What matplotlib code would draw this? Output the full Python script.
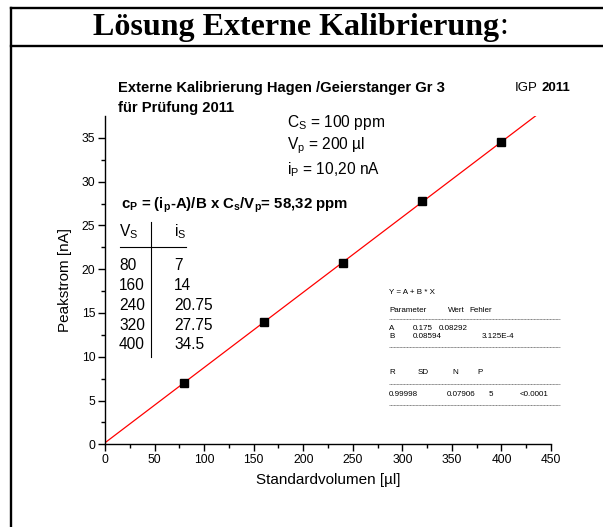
#!/usr/bin/env python
"""plot.py — external calibration chart (Lösung Externe Kalibrierung)."""
import numpy as np
import matplotlib
matplotlib.use("Agg")
import matplotlib.pyplot as plt
from matplotlib.lines import Line2D

# ── data ──────────────────────────────────────────────────────────────────────
volumes = [80, 160, 240, 320, 400]          # Standardvolumen [µl]
currents = [7, 14, 20.75, 27.75, 34.5]      # Peakstrom [nA]
fit_A = 0.175
fit_B = 0.08594
table_vs = ["80", "160", "240", "320", "400"]
table_is = ["7", "14", "20.75", "27.75", "34.5"]
x_ticks = [0, 50, 100, 150, 200, 250, 300, 350, 400, 450]
y_ticks = [0, 5, 10, 15, 20, 25, 30, 35]

plt.rcParams["font.family"] = ["Liberation Sans", "DejaVu Sans"]
plt.rcParams["mathtext.fontset"] = "custom"
plt.rcParams["mathtext.rm"] = "Liberation Sans"
plt.rcParams["mathtext.bf"] = "Liberation Sans:bold"
plt.rcParams["mathtext.it"] = "Liberation Sans:italic"

W, H = 603, 527
fig = plt.figure(figsize=(W / 100, H / 100), dpi=100)


def px(x, y):
    """pixel coords (top-left origin) -> figure fraction"""
    return x / W, 1 - y / H


def ftext(x, y, s, **kw):
    fx, fy = px(x, y)
    return fig.text(fx, fy, s, **kw)


# ── frame of the slide ────────────────────────────────────────────────────────
for xs, ys in [([11, W], [7.5, 7.5]), ([11, W], [45.5, 45.5]), ([11, 11], [7.5, H])]:
    fig.add_artist(Line2D([x / W for x in xs], [1 - y / H for y in ys],
                          transform=fig.transFigure, color="black", lw=1.7))

t = ftext(93, 27, "Lösung Externe Kalibrierung", family="Liberation Serif",
          fontweight="bold", fontsize=23, va="center", ha="left")
fig.canvas.draw()
bb = t.get_window_extent()
fig.text(bb.x1 / W, 1 - 27 / H, ":", family="Liberation Serif",
         fontsize=23, va="center", ha="left")

# ── axes ──────────────────────────────────────────────────────────────────────
ax = fig.add_axes([105 / W, 1 - 444.3 / H, (551 - 105) / W, (444.3 - 116) / H])
for s in ("top", "right"):
    ax.spines[s].set_visible(False)
for s in ("left", "bottom"):
    ax.spines[s].set_linewidth(1.0)

xfit = np.array([0, 450])
ax.plot(xfit, fit_A + fit_B * xfit, color="red", lw=0.9, zorder=2)
ax.plot(volumes, currents, ls="none", marker="s", ms=5.2, color="black", zorder=3)

ax.set_xlim(0, 450)
ax.set_ylim(0, 37.5)
ax.set_xticks(x_ticks)
ax.set_yticks(y_ticks)
ax.set_xticks(np.arange(25, 450, 50), minor=True)
ax.set_yticks(np.arange(2.5, 37.5, 5), minor=True)
ax.tick_params(which="major", direction="out", length=5, width=1, labelsize=8.7, pad=2)
ax.tick_params(which="minor", direction="out", length=3, width=1)
ax.set_xlabel("Standardvolumen [µl]", fontsize=11, labelpad=5)
ax.set_ylabel("Peakstrom [nA]", fontsize=11, labelpad=7)

# ── annotations ───────────────────────────────────────────────────────────────
ftext(118, 88, "Externe Kalibrierung Hagen /Geierstanger Gr 3", fontsize=10.6,
      fontweight="bold", va="center")
ftext(118, 108, "für Prüfung 2011", fontsize=10.6, fontweight="bold", va="center")
ftext(515, 88, "IGP", fontsize=9.5, va="center")
ftext(542, 88, "2011", fontsize=9.5, fontweight="bold", va="center")

ftext(287, 122, r"C$_\mathregular{S}$ = 100 ppm", fontsize=11.2, va="center")
ftext(287, 146, r"V$_\mathregular{p}$ = 200 µl", fontsize=11.2, va="center")
ftext(287, 170, r"i$_\mathregular{P}$ = 10,20 nA", fontsize=11.2, va="center")

ftext(121, 205,
      r"c$_\mathbf{P}$ = (i$_\mathbf{p}$-A)/B x C$_\mathbf{s}$/V$_\mathbf{p}$= 58,32 ppm",
      fontsize=10.8, fontweight="bold", va="center")

ftext(119, 232, r"V$_\mathregular{S}$", fontsize=11.2, va="center")
ftext(174, 232, r"i$_\mathregular{S}$", fontsize=11.2, va="center")
for i, (v, c) in enumerate(zip(table_vs, table_is)):
    y = 266 + i * 19.7
    ftext(119, y, v, fontsize=11.2, va="center")
    ftext(174, y, c, fontsize=11.2, va="center")
fig.add_artist(Line2D([151 / W, 151 / W], [1 - 222 / H, 1 - 357 / H],
                      transform=fig.transFigure, color="black", lw=0.8))
fig.add_artist(Line2D([120 / W, 186 / W], [1 - 247 / H, 1 - 247 / H],
                      transform=fig.transFigure, color="black", lw=0.8))

# fit statistics block
fs = 5.8
ftext(389, 292, "Y = A + B * X", fontsize=fs, va="center")
ftext(389, 310, "Parameter", fontsize=fs, va="center")
ftext(448, 310, "Wert", fontsize=fs, va="center")
ftext(469, 310, "Fehler", fontsize=fs, va="center")
ftext(389, 328, "A", fontsize=fs, va="center")
ftext(413, 328, "0.175", fontsize=fs, va="center")
ftext(439, 328, "0.08292", fontsize=fs, va="center")
ftext(389, 336, "B", fontsize=fs, va="center")
ftext(413, 336, "0.08594", fontsize=fs, va="center")
ftext(482, 336, "3.125E-4", fontsize=fs, va="center")
ftext(389, 372, "R", fontsize=fs, va="center")
ftext(418, 372, "SD", fontsize=fs, va="center")
ftext(452, 372, "N", fontsize=fs, va="center")
ftext(477, 372, "P", fontsize=fs, va="center")
ftext(389, 395, "0.99998", fontsize=fs, va="center")
ftext(447, 395, "0.07906", fontsize=fs, va="center")
ftext(489, 395, "5", fontsize=fs, va="center")
ftext(520, 395, "<0.0001", fontsize=fs, va="center")
for y in (319, 347, 384, 405):
    fig.add_artist(Line2D([389 / W, 560 / W], [1 - y / H, 1 - y / H],
                          transform=fig.transFigure, color="#555555", lw=0.5,
                          ls=(0, (1.5, 0.6))))

fig.savefig("out.png", dpi=100)
plt.close(fig)
